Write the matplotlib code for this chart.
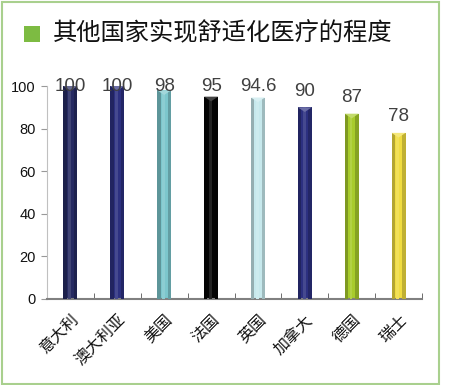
import matplotlib
matplotlib.use("Agg")
import matplotlib.pyplot as plt
from matplotlib.patches import Rectangle, Polygon
import numpy as np

categories = ["意大利", "澳大利亚", "美国", "法国", "英国", "加拿大", "德国", "瑞士"]
values = [100, 100, 98, 95, 94.6, 90, 87, 78]
value_labels = ["100", "100", "98", "95", "94.6", "90", "87", "78"]
colors = ["#262a62", "#2c3080", "#7cc6cc", "#050505", "#c6e8ec", "#2c3080", "#a8cc2c", "#f0dc40"]
yticks = [0, 20, 40, 60, 80, 100]
title = "其他国家实现舒适化医疗的程度"

fig = plt.figure(figsize=(4.5, 3.85), dpi=100)
fig.patch.set_facecolor("white")

# outer green frame
fig.patches.append(Rectangle((2/450, 1/385), 437/450, 382/385, transform=fig.transFigure,
                             fill=False, edgecolor="#a9d08e", linewidth=1.5))
# title marker and title
fig.patches.append(Rectangle((24/450, 1-42/385), 16/450, 16/385, transform=fig.transFigure,
                             facecolor="#7dbb42", edgecolor="none"))
fig.text(53/450, 1-33/385, title, fontsize=17.5, va="center", ha="left",
         family=["Noto Sans CJK SC", "DejaVu Sans"], color="#111111")

ax = fig.add_axes([47/450, 1-299/385, 375/450, 213/385])
x = np.arange(len(categories))
w = 0.3

def shade(c, f):
    c = np.array(matplotlib.colors.to_rgb(c))
    if f < 0:
        return tuple(c * (1 + f))
    return tuple(c + (1 - c) * f)

for xi, v, c in zip(x, values, colors):
    ax.bar(xi, v, width=w, color=c, edgecolor="none", zorder=2)
    # pillar shading
    ax.bar(xi - w*0.38, v, width=w*0.24, color=shade(c, -0.25), edgecolor="none", zorder=3)
    ax.bar(xi + w*0.38, v, width=w*0.24, color=shade(c, -0.2), edgecolor="none", zorder=3)
    ax.bar(xi - w*0.05, v, width=w*0.2, color=shade(c, 0.12), edgecolor="none", zorder=3)
    # top bevel triangle
    tri = Polygon([(xi - w/2, v), (xi + w/2, v), (xi, v - 2.2)], closed=True,
                  facecolor=shade(c, 0.3) if c != "#050505" else "#444444", edgecolor="none", zorder=4)
    ax.add_patch(tri)

for xi, v, lab in zip(x, values, value_labels):
    ax.text(xi, min(v + 7.5, 100), lab, ha="center", va="center", fontsize=13.5,
            family="Liberation Sans", color="#404040", zorder=5)

ax.set_xlim(-0.5, len(categories) - 0.5)
ax.set_ylim(0, 100)
ax.set_yticks(yticks)
ax.set_yticklabels([str(t) for t in yticks], family="Liberation Sans", fontsize=10.5, color="#111111")
ax.set_xticks(x)
ax.set_xticklabels(categories, rotation=45, ha="right", va="top", rotation_mode="anchor",
                   family=["Noto Sans CJK SC", "DejaVu Sans"], fontsize=11.5, color="#111111")
ax.tick_params(axis="x", length=0, pad=9)
ax.set_xticks(np.arange(len(categories)) + 0.5, minor=True)
ax.tick_params(axis="x", which="minor", direction="in", length=4, color="#555555")
ax.tick_params(axis="y", length=4, color="#999999", pad=4)

for s in ["top", "right"]:
    ax.spines[s].set_visible(False)
ax.spines["bottom"].set_color("#808080")
ax.spines["bottom"].set_linewidth(1.5)
ax.spines["left"].set_color("#c0c0c0")
ax.spines["left"].set_linewidth(0.8)
ax.set_facecolor("none")

fig.savefig("out.png", dpi=100, facecolor="white")
